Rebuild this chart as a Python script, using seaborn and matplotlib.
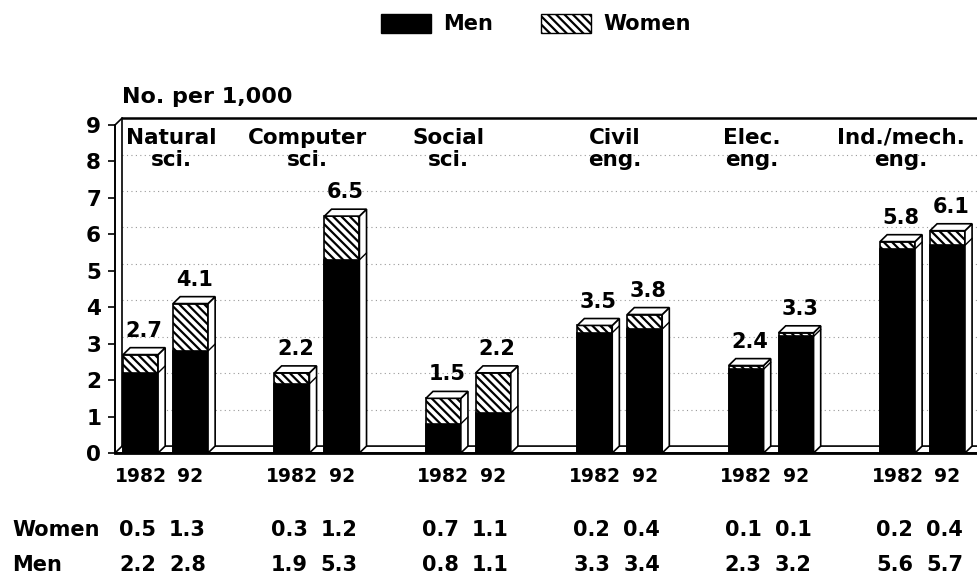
import numpy as np
import pandas as pd
import seaborn as sns
import matplotlib.pyplot as plt
import matplotlib.transforms as mtransforms
from matplotlib.patches import Patch, Polygon

# data (no. per 1,000)
fields = ['Natural\nsci.', 'Computer\nsci.', 'Social\nsci.', 'Civil\neng.', 'Elec.\neng.', 'Ind./mech.\neng.']
years = ['1982', '92']
men_1982 = [2.2, 1.9, 0.8, 3.3, 2.3, 5.6]
men_1992 = [2.8, 5.3, 1.1, 3.4, 3.2, 5.7]
women_1982 = [0.5, 0.3, 0.7, 0.2, 0.1, 0.2]
women_1992 = [1.3, 1.2, 1.1, 0.4, 0.1, 0.4]
total_1982 = [2.7, 2.2, 1.5, 3.5, 2.4, 5.8]
total_1992 = [4.1, 6.5, 2.2, 3.8, 3.3, 6.1]

df = pd.DataFrame({
    'field': fields * 2,
    'year': [years[0]] * 6 + [years[1]] * 6,
    'men': men_1982 + men_1992,
    'women': women_1982 + women_1992,
    'total': total_1982 + total_1992,
})

sns.set_style('white')
plt.rcParams['font.family'] = ['DejaVu Sans']
plt.rcParams['font.weight'] = 'bold'
plt.rcParams['text.color'] = 'black'
plt.rcParams['ytick.color'] = 'black'
plt.rcParams['ytick.labelcolor'] = 'black'
plt.rcParams['hatch.linewidth'] = 1.6

fig = plt.figure(figsize=(9.77, 5.8), dpi=100)
ax = fig.add_axes([115 / 977, 127 / 580, 862 / 977, 328 / 580])

HATCH = '\\\\\\\\'
common = dict(x='field', hue='year', order=fields, hue_order=years, width=0.66, gap=0.3,
              saturation=1, errorbar=None, legend=False, ax=ax, edgecolor='black', linewidth=1.2)
# total bars hatched, men drawn over in black -> stacked look
sns.barplot(data=df, y='total', palette=['white', 'white'], hatch=HATCH, **common)
sns.barplot(data=df, y='men', palette=['black', 'black'], **common)

xl, xr = -0.334, 5.36
ax.set_xlim(xl, xr)
ax.set_ylim(0, 9)
dx, dy = 0.047, 0.19

# floor and back wall
ax.add_patch(Polygon([(xl, 0), (xr + 0.2, 0), (xr + 0.2 + dx, dy), (xl + dx, dy)],
                     fc='white', ec='black', lw=1.2, zorder=2, clip_on=False))
for k in range(1, 9):
    ax.plot([xl + dx, xr], [k + dy, k + dy], ls=(0, (1, 3)), color='0.6', lw=0.8, zorder=1)
ax.plot([xl + dx, xl + dx], [dy, 9 + dy], color='black', lw=1.2, zorder=2, clip_on=False)
ax.plot([xl, xl + dx], [9, 9 + dy], color='black', lw=1.2, zorder=2, clip_on=False)
ax.plot([xl + dx, xr + 0.2], [9 + dy, 9 + dy], color='black', lw=1.8, zorder=2, clip_on=False)

# 3d faces + labels
blend = mtransforms.blended_transform_factory(ax.transData, fig.transFigure)
for ct, cm, yr in zip(ax.containers[:2], ax.containers[2:], years):
    sub = df[df['year'] == yr]
    for tb, mb, t, w, m in zip(ct, cm, sub['total'], sub['women'], sub['men']):
        tb.set_zorder(3)
        mb.set_zorder(3.5)
        x0 = tb.get_x()
        x1 = x0 + tb.get_width()
        h = tb.get_height()
        mh = mb.get_height()
        ax.add_patch(Polygon([(x1, 0), (x1 + dx, dy), (x1 + dx, h + dy), (x1, h)],
                             fc='white', ec='black', lw=1.2, zorder=4))
        ax.add_patch(Polygon([(x0, h), (x1, h), (x1 + dx, h + dy), (x0 + dx, h + dy)],
                             fc='white', ec='black', lw=1.2, zorder=4))
        ax.plot([x1, x1 + dx], [mh, mh + dy], color='black', lw=1, zorder=5)
        cx = x0 + tb.get_width() / 2
        ax.text(cx + dx / 2, h + dy + 0.3, f'{t:.1f}', ha='center', va='baseline',
                fontsize=15, fontweight='bold', zorder=6)
        ax.text(cx, 1 - 477 / 580, yr, transform=blend, ha='center', va='center',
                fontsize=13.5, fontweight='bold')
        ax.text(cx - 0.02, 1 - 530 / 580, f'{w:.1f}', transform=blend, ha='center', va='center',
                fontsize=15, fontweight='bold')
        ax.text(cx - 0.02, 1 - 565 / 580, f'{m:.1f}', transform=blend, ha='center', va='center',
                fontsize=15, fontweight='bold')

# category titles sit a little left of the group centre (except the first)
label_shift = [0.04, -0.06, -0.13, -0.03, -0.13, -0.14]
for i, (f, s) in enumerate(zip(fields, label_shift)):
    ax.text(i + s, 8.92, f, ha='center', va='top', fontsize=15.5, fontweight='bold',
            linespacing=1.15, zorder=6)

ax.set_xticks([])
ax.set_xlabel('')
ax.set_ylabel('')
ax.set_yticks(range(10))
ax.tick_params(axis='y', direction='out', length=5, width=1.2, pad=5, labelsize=15.5, left=True)
sns.despine(ax=ax)
ax.spines['left'].set_linewidth(1.4)
ax.spines['bottom'].set_linewidth(2)
ax.spines['left'].set_color('black')
ax.spines['bottom'].set_color('black')
ax.spines['left'].set_zorder(5)
ax.spines['bottom'].set_zorder(5)

fig.text(122 / 977, 1 - 97 / 580, 'No. per 1,000', ha='left', va='center', fontsize=16, fontweight='bold')
fig.text(12 / 977, 1 - 530 / 580, 'Women', ha='left', va='center', fontsize=15, fontweight='bold')
fig.text(12 / 977, 1 - 565 / 580, 'Men', ha='left', va='center', fontsize=15, fontweight='bold')

fig.legend(handles=[Patch(fc='black', ec='black', label='Men'),
                    Patch(fc='white', ec='black', hatch=HATCH, label='Women')],
           loc='center', bbox_to_anchor=(536 / 977, 1 - 24 / 580), ncol=2, frameon=False,
           fontsize=15, handlelength=2.4, handleheight=1.05, handletextpad=0.6, columnspacing=2.3)

fig.savefig('out.png', dpi=100)
